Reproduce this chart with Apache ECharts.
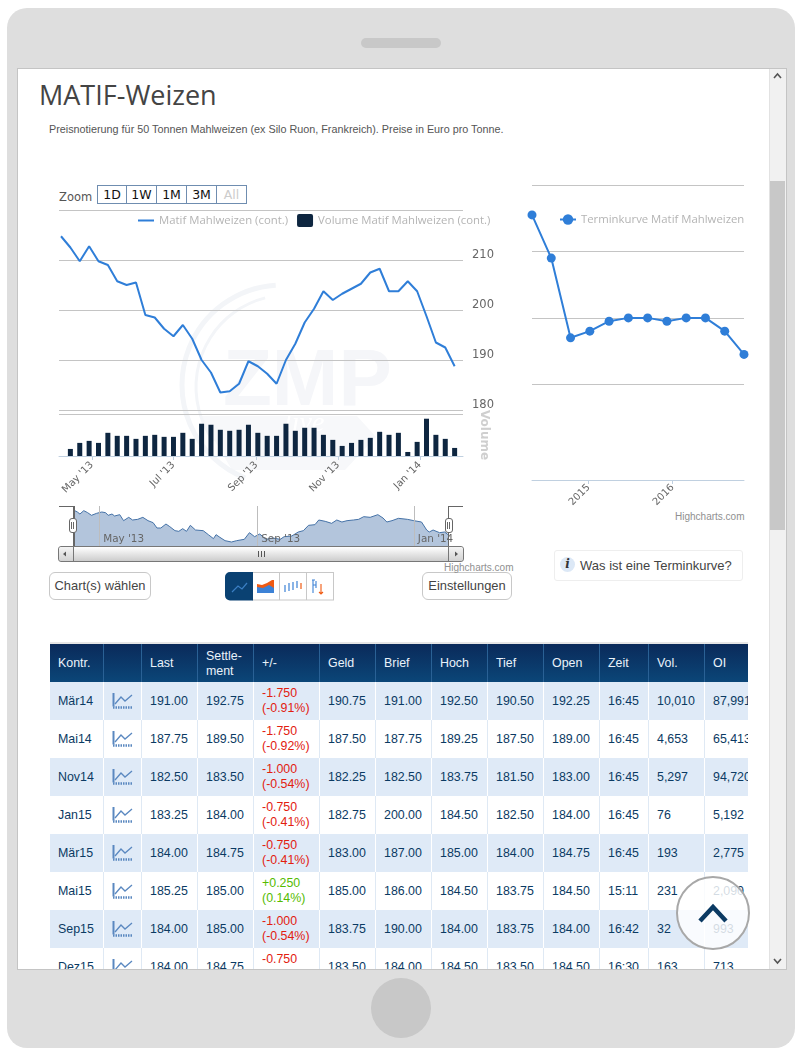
<!DOCTYPE html>
<html><head><meta charset="utf-8">
<script src="https://cdn.jsdelivr.net/npm/echarts@6/dist/echarts.min.js"></script>
<style>
html,body{margin:0;padding:0;width:802px;height:1058px;background:#fff;overflow:hidden;font-family:"Liberation Sans",Arial,sans-serif}
.a{position:absolute;box-sizing:border-box}
#chart{position:absolute;left:0;top:0;width:802px;height:1058px;z-index:2;pointer-events:none}
#over{position:absolute;left:0;top:0;width:802px;height:1058px;z-index:3;pointer-events:none}
#tbl{position:absolute;left:49.5px;top:644px;width:698.5px;height:325px;overflow:hidden;z-index:1}
table{border-collapse:separate;border-spacing:0;table-layout:fixed;width:713px;font-size:12.4px;color:#0b3a63}
th,td{padding:0 0 0 8.5px;text-align:left;font-weight:normal;overflow:hidden;white-space:nowrap;box-sizing:border-box}
th{height:38px;color:#eaf2fa;background:linear-gradient(#0a2a5a,#0b4678);border-right:1px solid #2a6195;line-height:15px;padding-top:1px}
td{height:38px;line-height:15px;border-right:1.5px solid #fff}
tr.o td{background:#dfeaf7}
tr.e td{background:#fff;border-right-color:#dfe9f4;border-bottom:0}
tr td:last-child,tr th:last-child{border-right:0}
.btn{border:1px solid #c8c8c8;border-radius:6px;color:#444;font-size:12.9px;text-align:center;line-height:26px;background:#fff}
.zb{top:185px;height:19px;width:30px;border:1px solid #6f8db0;border-left:0;font:12.5px "DejaVu Sans",sans-serif;color:#111;text-align:center;line-height:17px;background:#fff}
</style></head><body>
<div class="a" style="left:7px;top:8px;width:788px;height:1040px;background:#dedede;border-radius:20px"></div>
<div class="a" style="left:361px;top:38px;width:80px;height:10px;background:#c8c8c8;border-radius:5px"></div>
<div class="a" style="left:371px;top:978px;width:60px;height:60px;background:#c8c8c8;border-radius:50%"></div>
<div class="a" style="left:17px;top:68px;width:770px;height:902px;background:#fff;border:1px solid #c4c4c4"></div>
<div class="a" style="left:769px;top:69px;width:17px;height:900px;background:#f1f1f1;border-left:1px solid #e2e2e2"></div>
<div class="a" style="left:770px;top:181px;width:15px;height:349px;background:#c8c8c8"></div>
<svg class="a" style="left:770px;top:70px" width="15" height="12"><path d="M4 8 L7.5 4 L11 8" fill="none" stroke="#555" stroke-width="1.6"/></svg>
<svg class="a" style="left:770px;top:955px" width="15" height="12"><path d="M4 4 L7.5 8 L11 4" fill="none" stroke="#555" stroke-width="1.6"/></svg>

<div class="a" style="left:39px;top:77px;font:27px 'Open Sans',sans-serif;color:#444;white-space:nowrap;line-height:36px" id="title">MATIF-Weizen</div>
<div class="a" style="left:49px;top:122px;font-size:10.8px;color:#555;white-space:nowrap;line-height:14px">Preisnotierung für 50 Tonnen Mahlweizen (ex Silo Ruon, Frankreich). Preise in Euro pro Tonne.</div>

<div class="a" style="left:59px;top:190px;font:11.5px 'DejaVu Sans',sans-serif;color:#555;line-height:14px">Zoom</div>
<div id="zoombtns"></div>

<div class="a" style="left:49.5px;top:642px;width:698.5px;height:2px;background:#e6e6e6"></div>
<div id="tbl"></div>

<div class="a btn" style="left:49px;top:572px;width:102px;height:28px">Chart(s) wählen</div>
<div class="a btn" style="left:422px;top:572px;width:90px;height:28px">Einstellungen</div>
<svg class="a" style="left:225px;top:572px" width="110" height="29">
 <rect x="27.5" y="0.5" width="81" height="27.5" fill="#fff" stroke="#c8c8c8"/>
 <path d="M54.5 0V28M81.5 0V28" stroke="#c8c8c8"/>
 <path d="M5 0H28V28.5H5a5 5 0 0 1-5-5V5a5 5 0 0 1 5-5z" fill="#0a4172"/>
 <path d="M7 20 L13 14 L17 17 L22 11" fill="none" stroke="#3b7fc4" stroke-width="1.2"/>
 <path d="M32 21V12l5 1 5-2 5-3 2 0V14V21z" fill="#f05a12"/><path d="M32 21v-6l6 1 6-3 5 3v5z" fill="#3d82d6"/>
 <path d="M60 13v7M64 11v8M68 10v8M72 9v7" stroke="#3d82d6" stroke-width="1.2"/><path d="M76 11v6" stroke="#f05a12" stroke-width="1.2"/>
 <path d="M88 8v13M91 9v7M87 8h3M88 13h3" stroke="#3d82d6" stroke-width="1.1" fill="none"/><path d="M96 12v10M94 20l2 2 2-2" stroke="#f05a12" stroke-width="1.1" fill="none"/>
</svg>
<div class="a" style="left:554px;top:550px;width:189px;height:31px;border:1px solid #eee;border-radius:3px;font-size:13px;color:#444;line-height:29px;padding-left:25px;white-space:nowrap">Was ist eine Terminkurve?</div>
<div class="a" style="left:560px;top:557px;width:15px;height:15px;border-radius:50%;background:#dce8f6;font:italic bold 12px 'DejaVu Serif',serif;text-align:center;line-height:15px;color:#333">i</div>
<div class="a" style="left:675px;top:511px;font-size:10px;color:#909090;line-height:11px;white-space:nowrap">Highcharts.com</div>
<div class="a" style="left:444px;top:562px;font-size:10px;color:#909090;line-height:11px;white-space:nowrap">Highcharts.com</div>

<div id="chart"></div>

<div id="over">
 <div class="a" style="left:59px;top:505.5px;width:15px;height:1.5px;background:#666"></div>
 <div class="a" style="left:448px;top:505.5px;width:15px;height:1.5px;background:#666"></div>
 <div class="a" style="left:73px;top:506px;width:1.5px;height:41px;background:#666"></div>
 <div class="a" style="left:447.5px;top:506px;width:1.5px;height:41px;background:#666"></div>
 <div class="a" style="left:58px;top:546px;width:405.5px;height:15.5px;border:1px solid #777;border-radius:3px;background:linear-gradient(#fff,#ccc)"></div>
 <div class="a" style="left:73px;top:546px;width:1px;height:15.5px;background:#777"></div>
 <div class="a" style="left:448px;top:546px;width:1px;height:15.5px;background:#777"></div>
 <div class="a" style="left:58.5px;top:547px;width:14.5px;height:14px;background:linear-gradient(#f4f4f4,#d2d2d2);border-radius:3px 0 0 3px"></div>
 <div class="a" style="left:449px;top:547px;width:14px;height:14px;background:linear-gradient(#f4f4f4,#d2d2d2);border-radius:0 3px 3px 0"></div>
 <svg class="a" style="left:58px;top:546px" width="406" height="16"><path d="M8 5.5v5l-3-2.5zM397 5.5v5l3-2.5z" fill="#555"/><path d="M200.5 5v6M203.5 5v6M206.5 5v6" stroke="#555"/></svg>
 <div class="a" style="left:68.5px;top:518px;width:8px;height:15px;border:1px solid #666;border-radius:3px;background:#fff"></div>
 <div class="a" style="left:444.5px;top:518px;width:8px;height:15px;border:1px solid #666;border-radius:3px;background:#fff"></div>
 <svg class="a" style="left:68px;top:518px" width="386" height="15"><path d="M3.5 4v7M5.5 4v7M379.5 4v7M381.5 4v7" stroke="#666"/></svg>
 <div class="a" style="left:676px;top:876px;width:74px;height:74px;border-radius:50%;border:2.5px solid #a8a8a8;background:rgba(255,255,255,.82)"></div>
 <svg class="a" style="left:695px;top:901px" width="36" height="24"><path d="M5 20 L18 6 L31 20" fill="none" stroke="#0b3a63" stroke-width="4.5"/></svg>
</div>

<script>
// ---------- main price chart ----------
var priceDates = ['2013-04-08','2013-04-15','2013-04-22','2013-04-29','2013-05-06','2013-05-13','2013-05-20','2013-05-27','2013-06-03','2013-06-10','2013-06-17','2013-06-24','2013-07-01','2013-07-08','2013-07-15','2013-07-22','2013-07-29','2013-08-05','2013-08-12','2013-08-19','2013-08-26','2013-09-02','2013-09-09','2013-09-16','2013-09-23','2013-09-30','2013-10-07','2013-10-14','2013-10-21','2013-10-28','2013-11-04','2013-11-11','2013-11-18','2013-11-25','2013-12-02','2013-12-09','2013-12-16','2013-12-23','2013-12-30','2014-01-06','2014-01-13','2014-01-20','2014-01-27'];
var priceValues = [214.75,212.5,209.75,212.75,209.75,209,205.75,205,205.5,199,198.5,196.25,194.75,197,194.25,190,187.5,183.5,183.75,185.25,189.75,188.75,187.25,185.25,190,193.25,197.5,200.25,203.75,202,203.25,204.25,205.25,207.5,208.25,203.75,203.75,205.75,203.75,198.75,193.5,192.5,188.75];
var volumeValues = [null,8400,15600,18000,15600,27600,24000,24000,20400,24000,25200,22800,22800,27600,20400,38400,37200,31200,30000,31200,37200,27600,24000,24000,38400,30000,33600,33600,25200,19200,12000,15600,19200,21600,28800,25200,27600,4800,16800,44400,25200,20400,9600];
var mainTickDates = ['2013-05-01','2013-07-01','2013-09-01','2013-11-01','2014-01-01'];
var mainTickLabels = ["May '13","Jul '13","Sep '13","Nov '13","Jan '14"];
var priceTicks = [180,190,200,210];
// ---------- navigator ----------
var navDates = ['2013-04-11','2013-04-14','2013-04-16','2013-04-19','2013-04-22','2013-04-25','2013-04-29','2013-05-03','2013-05-06','2013-05-08','2013-05-11','2013-05-13','2013-05-17','2013-05-20','2013-05-24','2013-05-27','2013-05-31','2013-06-04','2013-06-08','2013-06-12','2013-06-15','2013-06-18','2013-06-22','2013-06-25','2013-06-29','2013-07-02','2013-07-05','2013-07-08','2013-07-11','2013-07-15','2013-07-21','2013-07-25','2013-07-29','2013-07-31','2013-08-03','2013-08-07','2013-08-12','2013-08-16','2013-08-22','2013-08-26','2013-08-30','2013-09-03','2013-09-08','2013-09-13','2013-09-19','2013-09-22','2013-09-28','2013-10-03','2013-10-07','2013-10-11','2013-10-16','2013-10-19','2013-10-24','2013-10-29','2013-11-02','2013-11-06','2013-11-10','2013-11-15','2013-11-19','2013-11-23','2013-11-28','2013-12-04','2013-12-08','2013-12-11','2013-12-15','2013-12-20','2013-12-27','2014-01-01','2014-01-07','2014-01-11','2014-01-13','2014-01-16','2014-01-21','2014-01-25','2014-01-28'];
var navValues = [215.1,213.15,211.2,214.45,212.5,209.9,211.85,213.15,212.5,209.9,211.2,209.25,210.55,204.7,207.95,205.35,206,207.95,204.7,202.75,197.55,197.55,201.45,198.85,194.95,194.3,196.9,194.3,200.15,195.6,194.95,191.05,187.15,191.05,188.45,185.2,183.9,185.2,186.5,193,189.1,191.7,186.5,187.8,186.5,189.1,189.75,193.65,194.95,200.15,200.8,205.35,204.05,202.1,205.35,203.4,204.7,205.35,206,208.6,207.95,210.55,207.3,203.4,204.7,206.98,206,204.7,203.4,195.6,193.65,195.6,193,193.65,190.7];
var navTickDates = ['2013-05-01','2013-09-01','2014-01-01'];
var navTickLabels = ["May '13","Sep '13","Jan '14"];
// ---------- term curve ----------
var termContracts = ['Mär14','Mai14','Nov14','Jan15','Mär15','Mai15','Sep15','Dez15','Mär16','Mai16','Sep16','Dez16'];
var termValues = [192.75,189.5,183.5,184,184.75,185,185,184.75,185,185,184,182.25];
var termGrid = [180,185,190,195];
var termTickPos = [2.94,7.3];
var termTickLabels = ['2015','2016'];
// ---------- table ----------
var tableHeads = ['Kontr.','','Last','Settle-<br>ment','+/-','Geld','Brief','Hoch','Tief','Open','Zeit','Vol.','OI'];
var colWidths = [54,38,56,56,66,56,56,56,56,56,49,56,58];
var tableRows = [
 ['Mär14','191.00','192.75','-1.750','(-0.91%)','190.75','191.00','192.50','190.50','192.25','16:45','10,010','87,991'],
 ['Mai14','187.75','189.50','-1.750','(-0.92%)','187.50','187.75','189.25','187.50','189.00','16:45','4,653','65,413'],
 ['Nov14','182.50','183.50','-1.000','(-0.54%)','182.25','182.50','183.75','181.50','183.00','16:45','5,297','94,720'],
 ['Jan15','183.25','184.00','-0.750','(-0.41%)','182.75','200.00','184.50','182.50','184.00','16:45','76','5,192'],
 ['Mär15','184.00','184.75','-0.750','(-0.41%)','183.00','187.00','185.00','184.00','184.75','16:45','193','2,775'],
 ['Mai15','185.25','185.00','+0.250','(0.14%)','185.00','186.00','184.50','183.75','184.50','15:11','231','2,090'],
 ['Sep15','184.00','185.00','-1.000','(-0.54%)','183.75','190.00','184.00','183.75','184.00','16:42','32','993'],
 ['Dez15','184.00','184.75','-0.750','(-0.41%)','183.50','184.00','184.50','183.50','184.50','16:30','163','713']
];
var zoomLabels = ['1D','1W','1M','3M','All'];

var FONT = '"Open Sans",sans-serif';
var iconSvg = '<svg width="21" height="17" style="display:block;margin:-2px 0 0 0"><path d="M1.5 1V14.5" stroke="#5a88c0" stroke-width="2"/><path d="M1 15.5H21" stroke="#5a88c0" stroke-width="2.5" stroke-dasharray="1.5 1"/><path d="M3 12 L9 5 L13 9 L20 3" fill="none" stroke="#5a88c0" stroke-width="1.3"/></svg>';
var h = '<table><colgroup>' + colWidths.map(function(w){return '<col style="width:'+w+'px">';}).join('') + '</colgroup><tr>';
tableHeads.forEach(function(t){h += '<th>'+t+'</th>';});
h += '</tr>';
tableRows.forEach(function(r,i){
  var col = r[3].charAt(0)==='+' ? '#55bb00' : '#e2200f';
  h += '<tr class="'+(i%2?'e':'o')+'"><td>'+r[0]+'</td><td>'+iconSvg+'</td><td>'+r[1]+'</td><td>'+r[2]+'</td>'+
       '<td style="color:'+col+'">'+r[3]+'<br>'+r[4]+'</td>';
  for (var k=5;k<r.length;k++) h += '<td>'+r[k]+'</td>';
  h += '</tr>';
});
document.getElementById('tbl').innerHTML = h + '</table>';
var zb = '';
zoomLabels.forEach(function(t,i){
  zb += '<div class="a zb" style="left:'+(97+i*30)+'px;'+(i===0?'border-left:1px solid #6f8db0;':'')+(i===4?'color:#ccc;':'')+'">'+t+'</div>';
});
document.getElementById('zoombtns').innerHTML = zb;

function toMs(d){return +echarts.time.parse(d);}
function ms(list){return list.map(toMs);}
function pairs(ds,vs){return ds.map(function(d,i){return [toMs(d),vs[i]];});}
function labeller(ds,ls){var m={};ms(ds).forEach(function(t,i){m[t]=ls[i];});return function(v){return m[+v]||'';};}

var LINE='#2f7ed8', GRID='#c4c4c4', AXIS='#c0d0e0', TXT='#666';
var mainMs = ms(mainTickDates), navMs = ms(navTickDates);
var mainMin = toMs('2013-04-06 12:00:00'), mainMax = toMs('2014-02-02 06:00:00');
var chart = echarts.init(document.getElementById('chart'),null,{renderer:'canvas',width:802,height:1058});
chart.setOption({
 animation:false,
 backgroundColor:'transparent',
 textStyle:{fontFamily:FONT},
 graphic:[
  {type:'polygon',z:-10,shape:{points:[[200,416],[357,416],[376,437],[345,470],[232,470]]},style:{fill:'#f7f8fa'},silent:true},
  {type:'arc',z:-9,shape:{cx:282,cy:385,r:100,startAngle:Math.PI*0.62,endAngle:Math.PI*1.48},style:{stroke:'#f3f5f8',lineWidth:5,fill:null},silent:true},
  {type:'arc',z:-9,shape:{cx:288,cy:387,r:92,startAngle:Math.PI*0.8,endAngle:Math.PI*1.42},style:{stroke:'#f3f5f8',lineWidth:3,fill:null},silent:true},
  {type:'text',z:-8,style:{text:'ZMP',x:223,y:343,font:'bold 80px "Liberation Sans"',fill:'#f5f6f9'},silent:true},
  {type:'text',z:-8,style:{text:'live',x:284,y:410,font:'italic 28px "Liberation Serif"',fill:'#ffffff'},silent:true}
 ],
 legend:[
  {data:[{name:'Matif Mahlweizen (cont.)',icon:'path://M0 0H16V2H0Z'},{name:'Volume Matif Mahlweizen (cont.)',icon:'path://M2 0H14A2 2 0 0 1 16 2V11A2 2 0 0 1 14 13H2A2 2 0 0 1 0 11V2A2 2 0 0 1 2 0Z'}],
   left:138,top:214,itemWidth:16,itemHeight:13,itemGap:9,padding:0,
   textStyle:{color:'#b4b4b4',fontSize:11.35,fontFamily:FONT}},
  {data:['Terminkurve Matif Mahlweizen'],left:559,top:214,itemWidth:16,itemHeight:13,itemGap:9,padding:0,
   textStyle:{color:'#b4b4b4',fontSize:11.35,fontFamily:FONT}}
 ],
 grid:[
  {left:59,top:210,width:404,height:200},
  {left:59,top:414,width:404,height:42},
  {left:73.5,top:506,width:375,height:40},
  {left:532,top:185,width:212,height:295}
 ],
 xAxis:[
  {gridIndex:0,type:'value',min:mainMin,max:mainMax,axisLine:{show:false},axisTick:{show:false},axisLabel:{show:false},splitLine:{show:false}},
  {gridIndex:1,type:'value',min:mainMin,max:mainMax,offset:1.5,
   axisLine:{lineStyle:{color:AXIS}},axisTick:{length:4,lineStyle:{color:AXIS},customValues:mainMs},splitLine:{show:false},
   axisLabel:{customValues:mainMs,rotate:45,margin:6,color:TXT,fontSize:10,fontFamily:'"DejaVu Sans"',formatter:labeller(mainTickDates,mainTickLabels)}},
  {gridIndex:2,type:'value',z:6,min:toMs('2013-04-11'),max:toMs('2014-01-28'),
   axisLine:{show:false},axisTick:{show:false,customValues:navMs},
   splitLine:{show:true,customValues:navMs,lineStyle:{color:'#bdbdbd',width:1}},
   axisLabel:{customValues:navMs,inside:true,margin:2,align:'left',padding:[0,0,0,4],color:TXT,fontSize:10.4,fontFamily:'"DejaVu Sans"',formatter:labeller(navTickDates,navTickLabels)}},
  {gridIndex:3,type:'value',min:0,max:11,
   axisLine:{lineStyle:{color:AXIS}},axisTick:{length:4,lineStyle:{color:AXIS},customValues:termTickPos},splitLine:{show:false},
   axisLabel:{customValues:termTickPos,rotate:45,margin:6,color:TXT,fontSize:10,fontFamily:'"DejaVu Sans"',formatter:function(v){var i=termTickPos.indexOf(v);return i<0?'':termTickLabels[i];}}}
 ],
 yAxis:[
  {gridIndex:0,type:'value',position:'right',min:180,max:220,interval:10,axisLine:{show:false},axisTick:{show:false},
   splitLine:{lineStyle:{color:GRID,width:1}},
   axisLabel:{margin:9,color:TXT,fontSize:11.5,fontFamily:'"DejaVu Sans"',verticalAlign:'bottom',lineHeight:9,padding:0,
     formatter:function(v){return priceTicks.indexOf(v)<0?'':String(v);}}},
  {gridIndex:1,type:'value',position:'right',min:0,max:50000,interval:50000,axisLine:{show:false},axisTick:{show:false},axisLabel:{show:false},
   splitLine:{lineStyle:{color:GRID,width:1}},
   name:'Volume',nameLocation:'middle',nameRotate:-90,nameGap:15,nameTextStyle:{color:'#cfcfcf',fontSize:12,fontWeight:'bold',fontFamily:'"DejaVu Sans"'}},
  {gridIndex:2,type:'value',min:180,max:219,axisLine:{show:false},axisTick:{show:false},axisLabel:{show:false},splitLine:{show:false}},
  {gridIndex:3,type:'value',min:172.8,max:195,axisLine:{show:false},axisTick:{show:false,customValues:termGrid},axisLabel:{show:false},
   splitLine:{show:true,customValues:termGrid,lineStyle:{color:GRID,width:1}}}
 ],
 series:[
  {name:'Matif Mahlweizen (cont.)',type:'line',xAxisIndex:0,yAxisIndex:0,data:pairs(priceDates,priceValues),symbol:'none',itemStyle:{color:LINE},lineStyle:{color:LINE,width:2},z:5},
  {name:'Volume Matif Mahlweizen (cont.)',type:'bar',xAxisIndex:1,yAxisIndex:1,data:pairs(priceDates,volumeValues),barWidth:5,itemStyle:{color:'#0e2640'},z:5},
  {name:'Navigator',type:'line',xAxisIndex:2,yAxisIndex:2,data:pairs(navDates,navValues),symbol:'none',lineStyle:{color:'#4572a7',width:1},areaStyle:{color:'#b3c5dc',opacity:1},z:1},
  {name:'Terminkurve Matif Mahlweizen',type:'line',xAxisIndex:3,yAxisIndex:3,data:termValues.map(function(v,i){return [i,v];}),symbol:'circle',symbolSize:9,clip:false,itemStyle:{color:LINE},lineStyle:{color:LINE,width:2},z:5}
 ]
});
</script>
</body></html>
